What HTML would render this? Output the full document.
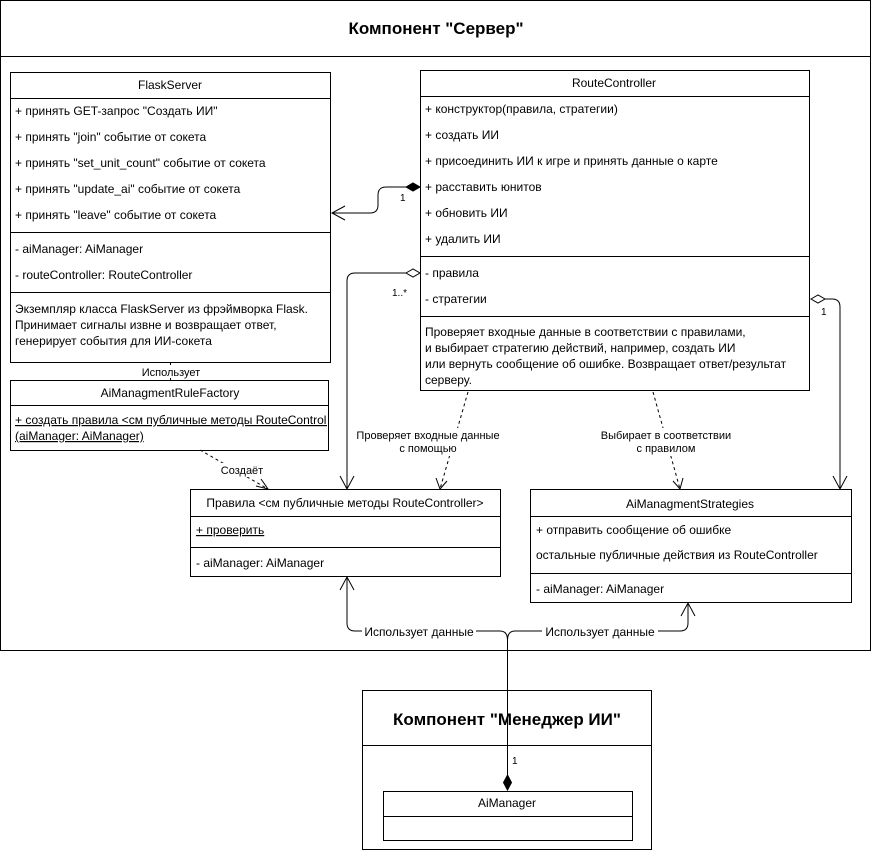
<!DOCTYPE html>
<html><head><meta charset="utf-8"><style>
html,body{margin:0;padding:0;background:#fff;}
svg{display:block;font-family:"Liberation Sans",Arial,sans-serif;}
text{font-size:12px;fill:#000;}
</style></head><body>
<svg width="872" height="850" viewBox="0 0 872 850" xmlns="http://www.w3.org/2000/svg">
<g fill="none" stroke="#000" stroke-width="1">
<rect x="0.5" y="0.5" width="870" height="650"/>
<line x1="0" y1="56.5" x2="871" y2="56.5"/>
<!-- FlaskServer -->
<rect x="10.5" y="72.5" width="320" height="290"/>
<line x1="10" y1="98.5" x2="330" y2="98.5"/>
<line x1="10" y1="232.5" x2="330" y2="232.5"/>
<line x1="10" y1="292.5" x2="330" y2="292.5"/>
<!-- Factory -->
<rect x="10.5" y="380.5" width="318" height="70"/>
<line x1="10" y1="405.5" x2="328" y2="405.5"/>
<!-- RouteController -->
<rect x="420.5" y="70.5" width="389" height="320"/>
<line x1="420" y1="96.5" x2="809" y2="96.5"/>
<line x1="420" y1="256.5" x2="809" y2="256.5"/>
<line x1="420" y1="316.5" x2="809" y2="316.5"/>
<!-- Rules -->
<rect x="190.5" y="489.5" width="310" height="87"/>
<line x1="190" y1="516.5" x2="500" y2="516.5"/>
<line x1="190" y1="547.5" x2="500" y2="547.5"/>
<!-- Strategies -->
<rect x="530.5" y="489.5" width="321" height="113"/>
<line x1="530" y1="516.5" x2="851" y2="516.5"/>
<line x1="530" y1="573.5" x2="851" y2="573.5"/>
<!-- Manager component -->
<rect x="362.5" y="690.5" width="289" height="159"/>
<line x1="362" y1="745.5" x2="651" y2="745.5"/>
<rect x="383.5" y="791.5" width="249" height="49"/>
<line x1="383" y1="816.5" x2="632" y2="816.5"/>

<!-- composition RouteController -> FlaskServer -->
<path d="M406 187 H386 Q378 187 378 195 V205 Q378 213 370 213 H332"/>
<path d="M345 206 L332 213 L345 220"/>
<!-- aggregation rules -->
<path d="M406 273 H355 Q347 273 347 281 V488"/>
<path d="M340 476 L347 489 L354 476"/>
<!-- aggregation strategies -->
<path d="M825 299 H832 Q840 299 840 307 V488"/>
<path d="M833 476 L840 489 L847 476"/>
<!-- Использует -->
<line x1="170.5" y1="362" x2="170.5" y2="380"/>
<!-- dashed -->
<g stroke-dasharray="3,3">
<path d="M200 450 L268 489"/>
<path d="M468 392 L440 489"/>
<path d="M653 392 L680 489"/>
</g>
<path d="M256 486 L268 489 L261 479"/>
<path d="M436 478 L440 489 L447 481"/>
<path d="M673 481 L680 489 L683 478"/>
<!-- bottom connectors -->
<path d="M507.5 776 V640 Q507.5 631 500 631 H355 Q347 631 347 623 V577"/>
<path d="M507.5 640 Q507.5 631 515 631 H680 Q688 631 688 623 V603"/>
<path d="M340 590 L347 577 L354 590"/>
<path d="M681 616 L688 603 L695 616"/>
</g>
<!-- diamonds -->
<path d="M406 187 L413 183 L420 187 L413 191 Z" fill="#000" stroke="#000"/>
<path d="M406 273 L413 269 L420 273 L413 277 Z" fill="#fff" stroke="#000"/>
<path d="M811 299 L818 295 L825 299 L818 303 Z" fill="#fff" stroke="#000"/>
<path d="M507.5 775 L511.5 782.5 L507.5 790 L503.5 782.5 Z" fill="#000" stroke="#000"/>

<!-- label backgrounds -->
<g fill="#fff">
<rect x="140" y="365" width="64" height="13"/>
<rect x="218" y="463" width="48" height="14"/>
<rect x="355" y="428" width="147" height="28"/>
<rect x="595" y="428" width="142" height="28"/>
<rect x="362" y="624" width="114" height="14"/>
<rect x="542" y="624" width="116" height="14"/>
</g>

<text x="436" y="34" text-anchor="middle" style="font-size:17px;font-weight:bold">Компонент "Сервер"</text>
<text x="507" y="725" text-anchor="middle" style="font-size:17px;font-weight:bold">Компонент "Менеджер ИИ"</text>

<text x="170" y="89" text-anchor="middle">FlaskServer</text>
<text x="15" y="115">+ принять GET-запрос "Создать ИИ"</text>
<text x="15" y="141">+ принять "join" событие от сокета</text>
<text x="15" y="167">+ принять "set_unit_count" событие от сокета</text>
<text x="15" y="193">+ принять "update_ai" событие от сокета</text>
<text x="15" y="219">+ принять "leave" событие от сокета</text>
<text x="15" y="253">- aiManager: AiManager</text>
<text x="15" y="279">- routeController: RouteController</text>
<text x="15" y="313">Экземпляр класса FlaskServer из фрэймворка Flask.</text>
<text x="15" y="329">Принимает сигналы извне и возвращает ответ,</text>
<text x="15" y="345">генерирует события для ИИ-сокета</text>

<text x="171" y="376" text-anchor="middle" style="font-size:11px">Использует</text>
<text x="170" y="397" text-anchor="middle">AiManagmentRuleFactory</text>
<svg x="10" y="405" width="317" height="45"><text x="5" y="19" text-decoration="underline">+ создать правила &lt;см публичные методы RouteController&gt;</text></svg>
<text x="15" y="440" text-decoration="underline">(aiManager: AiManager)</text>
<text x="242" y="474" text-anchor="middle" style="font-size:11px">Создаёт</text>

<text x="614" y="87" text-anchor="middle">RouteController</text>
<text x="425" y="113">+ конструктор(правила, стратегии)</text>
<text x="425" y="139">+ создать ИИ</text>
<text x="425" y="165">+ присоединить ИИ к игре и принять данные о карте</text>
<text x="425" y="191">+ расставить юнитов</text>
<text x="425" y="217">+ обновить ИИ</text>
<text x="425" y="243">+ удалить ИИ</text>
<text x="425" y="277">- правила</text>
<text x="425" y="303">- стратегии</text>
<text x="425" y="336">Проверяет входные данные в соответствии с правилами,</text>
<text x="425" y="352">и выбирает стратегию действий, например, создать ИИ</text>
<text x="425" y="368">или вернуть сообщение об ошибке. Возвращает ответ/результат</text>
<text x="425" y="384">серверу.</text>

<text x="400" y="201" style="font-size:10px">1</text>
<text x="392" y="296" style="font-size:10px">1..*</text>
<text x="821" y="315" style="font-size:10px">1</text>
<text x="512" y="764" style="font-size:10px">1</text>

<text x="428" y="439" text-anchor="middle" style="font-size:11px">Проверяет входные данные</text>
<text x="428" y="452" text-anchor="middle" style="font-size:11px">с помощью</text>
<text x="666" y="439" text-anchor="middle" style="font-size:11px">Выбирает в соответствии</text>
<text x="666" y="452" text-anchor="middle" style="font-size:11px">с правилом</text>

<text x="345" y="507" text-anchor="middle">Правила &lt;см публичные методы RouteController&gt;</text>
<text x="196" y="534" text-decoration="underline">+ проверить</text>
<text x="196" y="567">- aiManager: AiManager</text>

<text x="690" y="508" text-anchor="middle">AiManagmentStrategies</text>
<text x="536" y="534">+ отправить сообщение об ошибке</text>
<text x="536" y="559">остальные публичные действия из RouteController</text>
<text x="536" y="593">- aiManager: AiManager</text>

<text x="419" y="636" text-anchor="middle">Использует данные</text>
<text x="600" y="636" text-anchor="middle">Использует данные</text>

<text x="507" y="807" text-anchor="middle">AiManager</text>
</svg>
</body></html>
